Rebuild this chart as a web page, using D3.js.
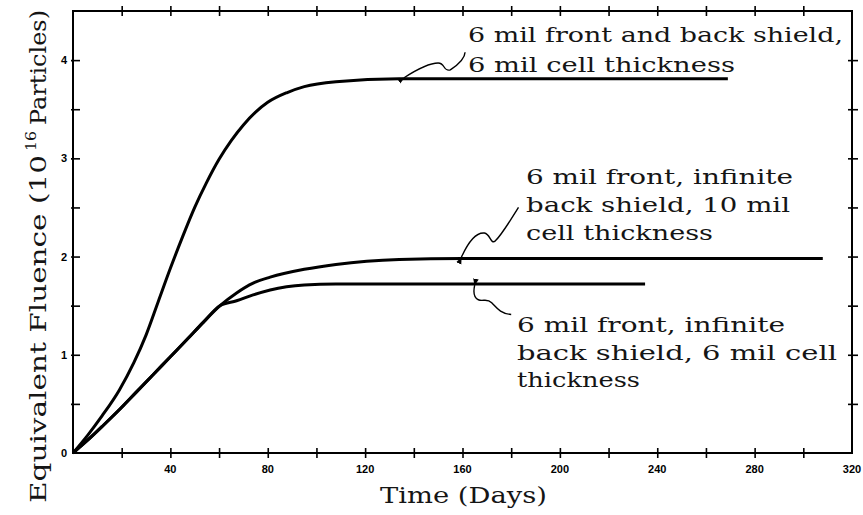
<!DOCTYPE html>
<html><head><meta charset="utf-8">
<script src="https://cdn.jsdelivr.net/npm/d3@7"></script>
<style>
html,body{margin:0;padding:0;background:#fff;}
svg{display:block;}
.tl{font-family:"Liberation Sans",Arial,sans-serif;font-weight:bold;font-size:11px;fill:#000;}
.tw{font-family:"DejaVu Serif",serif;fill:#151515;}
</style></head>
<body>
<svg id="c" width="863" height="515"></svg>
<script>
(function(){
// ---- data ----
const daysA   = [0, 6, 12, 19, 25, 30, 35, 40, 45, 50, 55, 60, 65, 70, 75, 80, 88, 95, 108, 134, 160, 269];
const fluenceA= [0, 0.18, 0.38, 0.64, 0.92, 1.20, 1.54, 1.88, 2.20, 2.50, 2.76, 2.99, 3.18, 3.34, 3.47, 3.57, 3.67, 3.73, 3.78, 3.81, 3.81, 3.81];

const daysShared    = [0, 6, 12.4, 19, 26, 33, 40, 47, 53.5, 60.4];
const fluenceShared = [0, 0.13, 0.28, 0.44, 0.62, 0.80, 0.98, 1.16, 1.33, 1.50];

const daysB    = [67.2, 74, 81, 95, 108, 134, 160, 308];
const fluenceB = [1.63, 1.73, 1.79, 1.87, 1.92, 1.97, 1.98, 1.98];

const daysC    = [67.2, 74, 81, 95, 108, 235];
const fluenceC = [1.55, 1.61, 1.66, 1.71, 1.72, 1.72];

const xLabels = [40, 80, 120, 160, 200, 240, 280, 320];
const yLabels = [0, 1, 2, 3, 4];
const xMinorTicks = d3.range(20, 320, 20);
const yMinorTicks = d3.range(0.5, 4.5, 0.5);

const labelA = ["6 mil front and back shield,", "6 mil cell thickness"];
const labelB = ["6 mil front,  infinite", "back shield, 10 mil", "cell thickness"];
const labelC = ["6 mil front,  infinite", "back shield, 6 mil cell", "thickness"];

// ---- build ----
const svg = d3.select("#c");
const x = d3.scaleLinear().domain([0, 320]).range([73, 852]);
const y = d3.scaleLinear().domain([0, 4.5]).range([453, 11]);

const seriesA = daysA.map((d,i)=>[d, fluenceA[i]]);
const shared = daysShared.map((d,i)=>[d, fluenceShared[i]]);
const seriesB = shared.concat(daysB.map((d,i)=>[d, fluenceB[i]]));
const seriesC = shared.concat(daysC.map((d,i)=>[d, fluenceC[i]]));

// frame
svg.append("rect").attr("x", x(0)).attr("y", y(4.5)).attr("width", x(320)-x(0)).attr("height", y(0)-y(4.5))
  .attr("fill","none").attr("stroke","#000").attr("stroke-width",2);

// axes with crossing ticks
const gs = [];
gs.push(svg.append("g").attr("transform",`translate(0,${y(0)})`)
  .call(d3.axisBottom(x).tickValues(xMinorTicks).tickSize(5).tickFormat("")));
gs.push(svg.append("g").attr("transform",`translate(0,${y(4.5)})`)
  .call(d3.axisTop(x).tickValues(xMinorTicks).tickSize(5).tickFormat("")));
gs.push(svg.append("g").attr("transform",`translate(0,${y(0)})`)
  .call(d3.axisTop(x).tickValues(xMinorTicks).tickSize(5).tickFormat("")));
gs.push(svg.append("g").attr("transform",`translate(0,${y(4.5)})`)
  .call(d3.axisBottom(x).tickValues(xMinorTicks).tickSize(5).tickFormat("")));
gs.push(svg.append("g").attr("transform",`translate(${x(0)},0)`)
  .call(d3.axisRight(y).tickValues(yMinorTicks).tickSize(7).tickFormat("")));
gs.push(svg.append("g").attr("transform",`translate(${x(0)},0)`)
  .call(d3.axisLeft(y).tickValues(yMinorTicks).tickSize(2).tickFormat("")));
gs.push(svg.append("g").attr("transform",`translate(${x(320)},0)`)
  .call(d3.axisRight(y).tickValues(yMinorTicks).tickSize(6).tickFormat("")));
gs.push(svg.append("g").attr("transform",`translate(${x(320)},0)`)
  .call(d3.axisLeft(y).tickValues(yMinorTicks).tickSize(4).tickFormat("")));
gs.forEach(g=>{
  g.select(".domain").remove();
  g.selectAll(".tick line").attr("stroke","#000").attr("stroke-width",1.6);
});

// tick labels
svg.append("g").selectAll("text").data(xLabels).join("text").attr("class","tl")
  .attr("x", d=>x(d)).attr("y", 473).attr("text-anchor","middle").text(d=>d);
svg.append("g").selectAll("text").data(yLabels).join("text").attr("class","tl")
  .attr("x", 67).attr("y", d=>y(d)).attr("dy","0.36em").attr("text-anchor","end").text(d=>d);

// curves
const line = d3.line().x(d=>x(d[0])).y(d=>y(d[1])).curve(d3.curveMonotoneX);
svg.append("g").selectAll("path").data([seriesA, seriesB, seriesC]).join("path")
  .attr("d", line).attr("fill","none").attr("stroke","#000").attr("stroke-width",3)
  .attr("stroke-linejoin","round");

// axis titles
svg.append("text").attr("class","tw").attr("x",380).attr("y",503)
  .attr("font-size",22).attr("textLength",167).attr("lengthAdjust","spacingAndGlyphs").text("Time (Days)");
const yt = svg.append("g").attr("transform","translate(46,503) rotate(-90)");
yt.append("text").attr("class","tw").attr("x",0).attr("y",0).attr("font-size",22)
  .attr("textLength",348).attr("lengthAdjust","spacingAndGlyphs").text("Equivalent Fluence (10");
yt.append("text").attr("class","tw").attr("x",352).attr("y",-10).attr("font-size",15)
  .attr("textLength",20).attr("lengthAdjust","spacingAndGlyphs").text("16");
yt.append("text").attr("class","tw").attr("x",378).attr("y",0).attr("font-size",22)
  .attr("textLength",115).attr("lengthAdjust","spacingAndGlyphs").text("Particles)");

// annotations
function label(lines, x0, baselines, widths){
  lines.forEach((t,i)=>{
    svg.append("text").attr("class","tw").attr("x",x0).attr("y",baselines[i]).attr("font-size",20.5)
      .attr("textLength",widths[i]).attr("lengthAdjust","spacingAndGlyphs").text(t);
  });
}
label(labelA, 468, [42, 72], [375, 267]);
label(labelB, 526, [184, 212, 240], [267, 264, 187]);
label(labelC, 517, [332, 360, 387], [268, 320, 123]);

// leader squiggles
const defs = svg.append("defs");
defs.append("marker").attr("id","ah").attr("viewBox","0 0 10 10").attr("refX",1).attr("refY",5)
  .attr("markerWidth",5).attr("markerHeight",5).attr("orient","auto-start-reverse")
  .append("path").attr("d","M0,5 L10,1 L10,9 Z").attr("fill","#000");
const leaders = [
  `M${x(136)},${y(3.81)-1} C${x(141)},${y(3.9)} ${x(146)},${y(3.97)} ${x(150)},${y(3.97)} C${x(153)},${y(3.97)} ${x(152)},${y(3.88)} ${x(155)},${y(3.9)} C${x(158)},${y(3.95)} ${x(161)},${y(4.02)} ${x(159)+5},${y(4.08)}`,
  `M${x(159.5)},${y(1.98)-1} C${x(162)},${y(2.13)} ${x(165)},${y(2.25)} ${x(169)},${y(2.24)} C${x(171.5)},${y(2.23)} ${x(171.5)},${y(2.12)} ${x(173.5)},${y(2.16)} C${x(176)},${y(2.22)} ${x(181)},${y(2.42)} ${x(183)},${y(2.5)}`,
  `M${x(165)},${y(1.72)+1} C${x(164.5)},${y(1.65)} ${x(164.5)},${y(1.58)} ${x(166.5)},${y(1.56)} C${x(168.5)},${y(1.54)} ${x(170)},${y(1.58)} ${x(172)},${y(1.53)} C${x(174)},${y(1.48)} ${x(175.5)},${y(1.42)} ${x(180)},${y(1.41)}`
];
svg.append("g").selectAll("path").data(leaders).join("path").attr("d",d=>d)
  .attr("fill","none").attr("stroke","#000").attr("stroke-width",1.4).attr("marker-start","url(#ah)");
})();
</script>
</body></html>
